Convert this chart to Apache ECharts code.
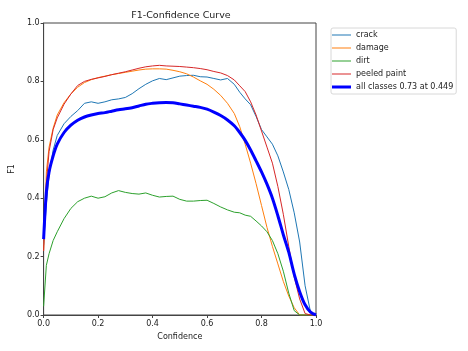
<!DOCTYPE html>
<html>
<head>
<meta charset="utf-8">
<script src="https://cdn.jsdelivr.net/npm/echarts@6/dist/echarts.min.js"></script>
<style>
  html, body { margin: 0; padding: 0; background: #fff; }
  #main { width: 468px; height: 351px; }
</style>
</head>
<body>
<div id="main"></div>
<script>
// confidence grid (x values)
var conf = [0, 0.01, 0.02, 0.035, 0.05, 0.075, 0.1, 0.125, 0.15, 0.175, 0.2, 0.225, 0.25, 0.275, 0.3, 0.325,
    0.35, 0.375, 0.4, 0.425, 0.45, 0.475, 0.5, 0.525, 0.55, 0.575, 0.6, 0.625, 0.65, 0.675, 0.7,
    0.72, 0.74, 0.76, 0.78, 0.8, 0.82, 0.84, 0.86, 0.88, 0.9, 0.92, 0.94, 0.96, 0.98, 1.0];

var crack = [0.24, 0.38, 0.48, 0.565, 0.615, 0.655, 0.68, 0.70, 0.725, 0.73, 0.725, 0.73, 0.737, 0.74, 0.745, 0.758,
    0.775, 0.79, 0.802, 0.81, 0.806, 0.812, 0.818, 0.82, 0.821, 0.816, 0.815, 0.81, 0.805, 0.81, 0.79,
    0.763, 0.74, 0.72, 0.68, 0.635, 0.61, 0.585, 0.545, 0.49, 0.43, 0.35, 0.25, 0.10, 0.01, 0];

var damage = [0.22, 0.49, 0.575, 0.64, 0.685, 0.727, 0.757, 0.78, 0.796, 0.806, 0.813, 0.818, 0.823, 0.827, 0.831, 0.835,
    0.839, 0.842, 0.843, 0.843, 0.842, 0.838, 0.833, 0.826, 0.815, 0.802, 0.79, 0.773, 0.752, 0.725, 0.69,
    0.645, 0.585, 0.52, 0.45, 0.375, 0.30, 0.235, 0.175, 0.115, 0.065, 0.025, 0, 0, 0, 0];

var dirt = [0.03, 0.17, 0.21, 0.255, 0.285, 0.33, 0.365, 0.388, 0.40, 0.407, 0.40, 0.405, 0.418, 0.426, 0.42, 0.416,
    0.414, 0.418, 0.41, 0.404, 0.406, 0.407, 0.396, 0.39, 0.39, 0.392, 0.393, 0.382, 0.37, 0.36, 0.352,
    0.35, 0.342, 0.338, 0.322, 0.305, 0.285, 0.255, 0.21, 0.15, 0.075, 0.015, 0, 0, 0, 0];

var peeled = [0.22, 0.45, 0.56, 0.635, 0.675, 0.722, 0.757, 0.786, 0.80, 0.807, 0.812, 0.817, 0.823, 0.828, 0.833, 0.839,
    0.845, 0.85, 0.853, 0.855, 0.853, 0.852, 0.851, 0.849, 0.847, 0.844, 0.84, 0.834, 0.829, 0.82, 0.805,
    0.785, 0.765, 0.73, 0.685, 0.63, 0.575, 0.52, 0.44, 0.345, 0.235, 0.13, 0.055, 0.005, 0, 0];

var allClasses = [0.26, 0.42, 0.49, 0.545, 0.585, 0.625, 0.65, 0.667, 0.678, 0.685, 0.69, 0.693, 0.698, 0.703, 0.706, 0.71,
    0.716, 0.722, 0.725, 0.727, 0.728, 0.727, 0.723, 0.719, 0.715, 0.711, 0.705, 0.695, 0.683, 0.668, 0.648,
    0.625, 0.598, 0.565, 0.528, 0.49, 0.448, 0.40, 0.34, 0.275, 0.215, 0.14, 0.08, 0.035, 0.01, 0];

var names = ['crack', 'damage', 'dirt', 'peeled paint', 'all classes 0.73 at 0.449'];
var colors = ['#1f77b4', '#ff7f0e', '#2ca02c', '#d62728', '#0000ff'];

// legend line icons (the M0,0 / M19,10 points keep the 19x10 box)
var thinIcon = 'path://M0,0M0,4.5L19,4.5L19,5.5L0,5.5ZM19,10';
var thickIcon = 'path://M0,0M0,3.5L19,3.5L19,6.5L0,6.5ZM19,10';

function pairs(ys) {
    var out = [];
    for (var i = 0; i < conf.length; i++) out.push([conf[i], ys[i]]);
    return out;
}

var font = 'DejaVu Sans';
var myChart = echarts.init(document.getElementById('main'));

var lists = [crack, damage, dirt, peeled, allClasses];
var series = [];
var legendData = [];
for (var k = 0; k < lists.length; k++) {
    var thick = (k == 4);
    series.push({
        name: names[k],
        type: 'line',
        symbol: 'none',
        smooth: thick ? 0.3 : false,
        z: thick ? 5 : 2,
        lineStyle: { width: thick ? 3 : 1, color: colors[k] },
        itemStyle: { color: colors[k] },
        data: pairs(lists[k])
    });
    legendData.push({ name: names[k], icon: thick ? thickIcon : thinIcon });
}

var option = {
    backgroundColor: '#fff',
    animation: false,
    title: {
        text: 'F1-Confidence Curve',
        left: 176,
        top: 6,
        textAlign: 'center',
        textStyle: { fontFamily: font, fontSize: 9.5, fontWeight: 'normal', color: '#222' }
    },
    legend: {
        orient: 'vertical',
        left: 331,
        top: 28,
        padding: [2, 3, 2, 1],
        itemWidth: 19,
        itemHeight: 10,
        itemGap: 3,
        borderColor: '#d8d8d8',
        borderWidth: 1,
        borderRadius: 2,
        data: legendData,
        textStyle: { fontFamily: font, fontSize: 8, color: '#222' }
    },
    grid: {
        left: 36,
        right: 152,
        top: 23,
        bottom: 36,
        show: true,
        borderColor: '#444',
        borderWidth: 1
    },
    xAxis: {
        type: 'value',
        min: 0,
        max: 1,
        interval: 0.2,
        name: 'Confidence',
        nameLocation: 'middle',
        nameGap: 17,
        nameTextStyle: { fontFamily: font, fontSize: 8, color: '#222' },
        axisLine: { lineStyle: { color: '#444' } },
        axisTick: { length: 3, lineStyle: { color: '#444' } },
        axisLabel: {
            margin: 5,
            fontFamily: font, fontSize: 8, color: '#222',
            formatter: function (v) { return v.toFixed(1); }
        },
        splitLine: { show: false }
    },
    yAxis: {
        type: 'value',
        min: 0,
        max: 1,
        interval: 0.2,
        name: 'F1',
        nameLocation: 'middle',
        nameGap: 20,
        nameTextStyle: { fontFamily: font, fontSize: 8, color: '#222' },
        axisLine: { show: true, lineStyle: { color: '#444' } },
        axisTick: { show: true, length: 3, lineStyle: { color: '#444' } },
        axisLabel: {
            margin: 4,
            fontFamily: font, fontSize: 8, color: '#222',
            formatter: function (v) { return v.toFixed(1); }
        },
        splitLine: { show: false }
    },
    series: series
};
myChart.setOption(option);
</script>
</body>
</html>
